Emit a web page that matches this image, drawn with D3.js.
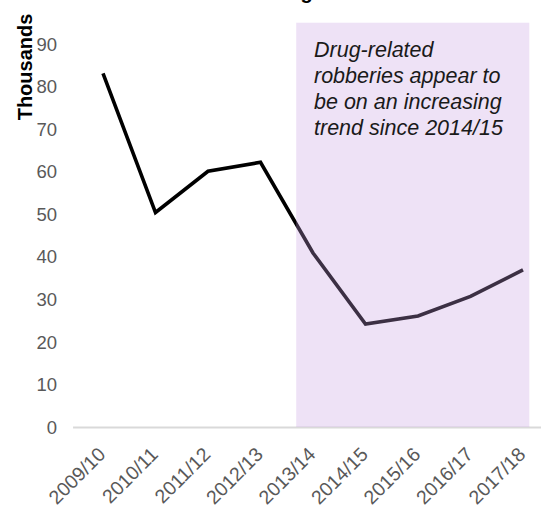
<!DOCTYPE html>
<html>
<head>
<meta charset="utf-8">
<script src="https://cdn.jsdelivr.net/npm/d3@7"></script>
<style>
  html, body { margin: 0; padding: 0; background: #fff; }
  svg { display: block; }
</style>
</head>
<body>
<svg id="chart" width="541" height="519"></svg>
<script>
const categories = ["2009/10","2010/11","2011/12","2012/13","2013/14","2014/15","2015/16","2016/17","2017/18"];
const robberies = [83.1, 50.4, 60.1, 62.2, 40.9, 24.2, 26.1, 30.7, 36.9];
const yTicks = [0, 10, 20, 30, 40, 50, 60, 70, 80, 90];
const yAxisTitle = "Thousands";
const titleText = "Drug-related robberies";
const annotationLines = ["Drug-related", "robberies appear to", "be on an increasing", "trend since 2014/15"];
const annotationFrom = "2013/14";
const annotationTo = "2017/18";
const annotationTop = 95;

const svg = d3.select("#chart");
const x = d3.scalePoint().domain(categories).range([103, 523]);
const step = x.step();
const y = d3.scaleLinear().domain([0, 90]).range([427, 44]);

// cut-off title (only descender visible, as in the reference)
svg.append("text")
  .attr("x", 266).attr("y", -1)
  .attr("font-family", "Liberation Sans, Arial, sans-serif")
  .attr("font-weight", "bold").attr("font-size", 20)
  .attr("fill", "#000")
  .text(titleText);

// axis baseline
svg.append("line")
  .attr("x1", x(categories[0]) - step * 0.57).attr("x2", x(categories[8]) + step * 0.5)
  .attr("y1", y(0) + 0.5).attr("y2", y(0) + 0.5)
  .attr("stroke", "#d9d9d9").attr("stroke-width", 2);

// y tick labels
svg.append("g").selectAll("text").data(yTicks).join("text")
  .attr("x", 57).attr("y", d => y(d))
  .attr("dy", "0.36em")
  .attr("text-anchor", "end")
  .attr("font-family", "Liberation Sans, Arial, sans-serif")
  .attr("font-size", 18.5).attr("fill", "#595959")
  .text(d => d);

// y title
svg.append("text")
  .attr("transform", `translate(32, ${67}) rotate(-90)`)
  .attr("text-anchor", "middle")
  .attr("font-family", "Liberation Sans, Arial, sans-serif")
  .attr("font-weight", "bold").attr("font-size", 20)
  .attr("fill", "#000")
  .text(yAxisTitle);

// x tick labels
svg.append("g").selectAll("text").data(categories).join("text")
  .attr("transform", d => `translate(${x(d) - 6}, 446) rotate(-45)`)
  .attr("text-anchor", "end")
  .attr("dy", "0.7em")
  .attr("font-family", "Liberation Sans, Arial, sans-serif")
  .attr("font-size", 19.5).attr("fill", "#595959")
  .text(d => d);

// line
const line = d3.line().x((d, i) => x(categories[i])).y(d => y(d));
svg.append("path")
  .datum(robberies)
  .attr("d", line)
  .attr("fill", "none")
  .attr("stroke", "#000")
  .attr("stroke-width", 3.6)
  .attr("stroke-linejoin", "miter");

// annotation shaded box (on top, translucent)
svg.append("rect")
  .attr("x", x(annotationFrom) - step * 0.32)
  .attr("y", y(annotationTop))
  .attr("width", (x(annotationTo) + step * 0.12) - (x(annotationFrom) - step * 0.32))
  .attr("height", y(0) - y(annotationTop))
  .attr("fill", "#c69ee0").attr("fill-opacity", 0.3);

// annotation text
svg.append("text")
  .attr("font-family", "Liberation Sans, Arial, sans-serif")
  .attr("font-style", "italic").attr("font-size", 21.5)
  .attr("fill", "#1a1a1a")
  .selectAll("tspan").data(annotationLines).join("tspan")
  .attr("x", x(annotationFrom) + 1)
  .attr("y", (d, i) => 57 + i * 26)
  .text(d => d);
</script>
</body>
</html>
